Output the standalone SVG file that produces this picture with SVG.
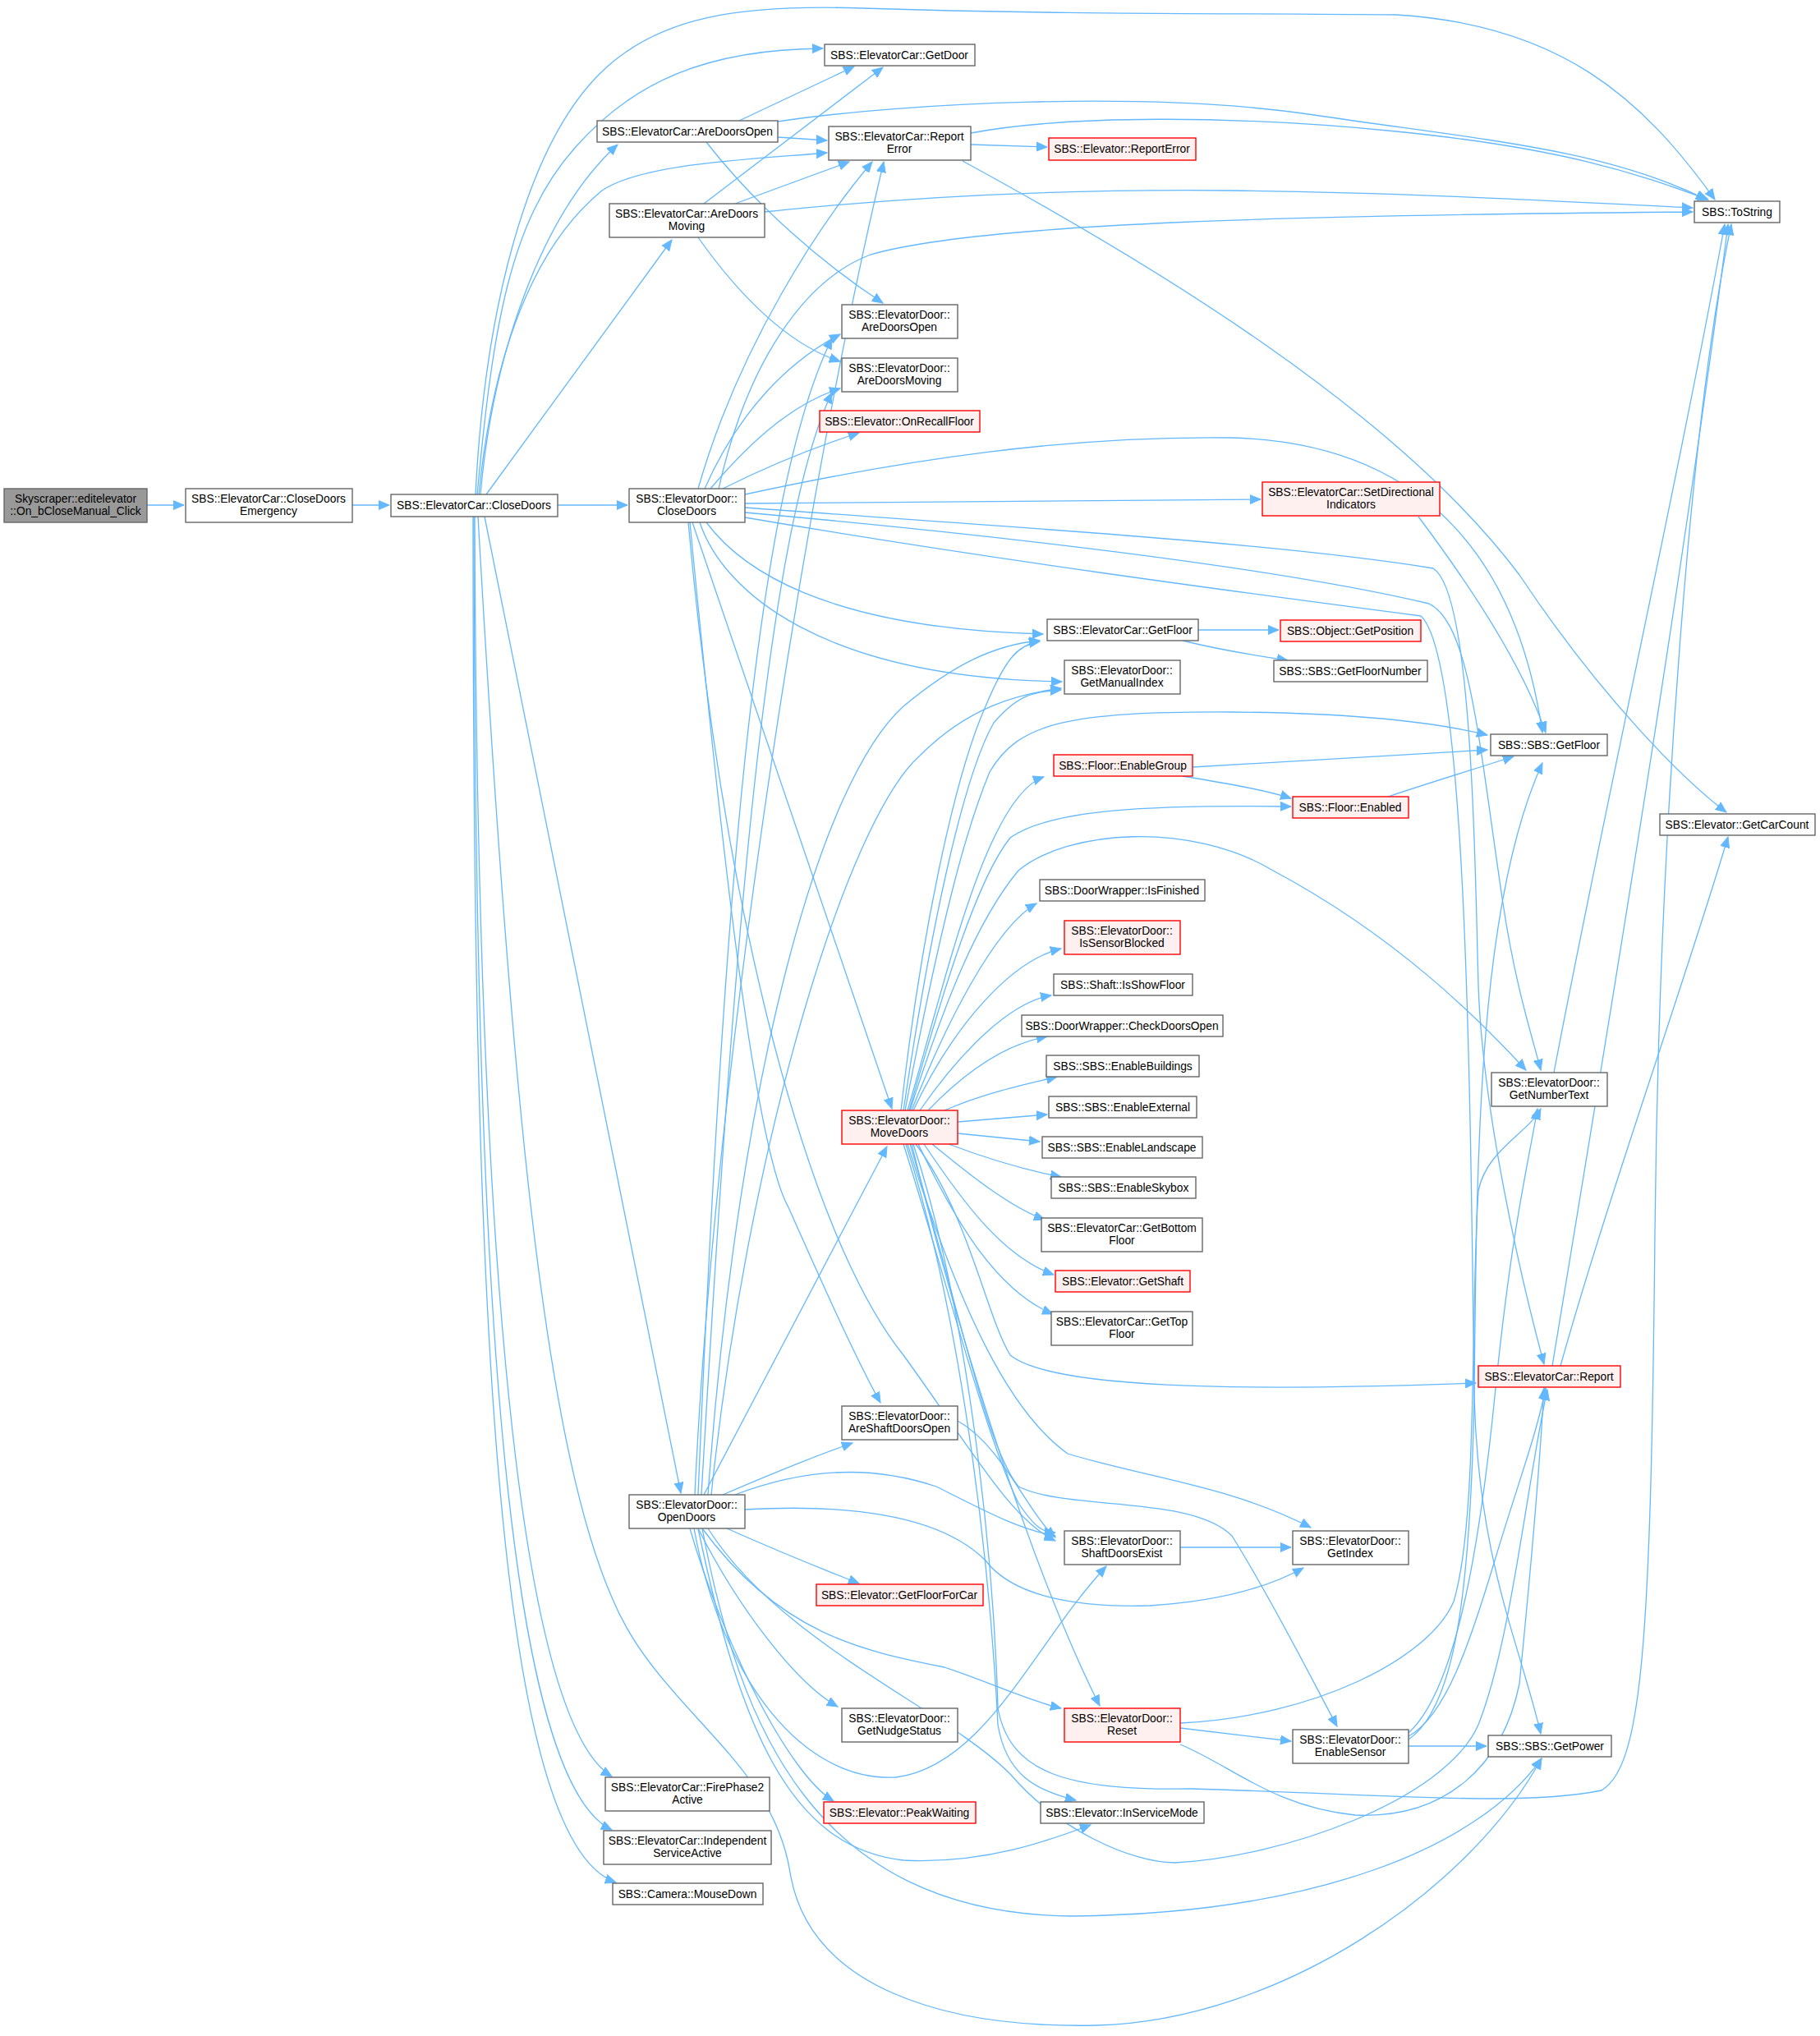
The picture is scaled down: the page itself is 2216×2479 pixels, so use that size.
<svg xmlns="http://www.w3.org/2000/svg" width="2216" height="2479" viewBox="0 0 2216 2479">
<style>
.n rect{fill:#ffffff;stroke:#666666;stroke-width:1.4}
.r rect{fill:#fff0f0;stroke:#ff0000;stroke-width:1.4}
.g rect{fill:#999999;stroke:#666666;stroke-width:1.4}
text{font-family:"Liberation Sans",Arial,Helvetica,sans-serif;font-size:13.8px;text-anchor:middle;fill:#000000}
.e path{fill:none;stroke:#63b8ff;stroke-width:1.3;marker-end:url(#a)}
</style>
<defs>
<marker id="a" markerUnits="userSpaceOnUse" markerWidth="14" markerHeight="12" refX="13" refY="6" orient="auto"><path d="M0,0.5 L13,6 L0,11.5 z" fill="#63b8ff" stroke="#63b8ff" stroke-width="1"/></marker>
</defs>
<rect width="2216" height="2479" fill="#ffffff"/>
<g id="edges" class="e">
<path d="M179,615 L224,615"/>
<path d="M429,615 L474,615"/>
<path d="M579,602 C590,380 640,180 730,90 C800,20 900,5 1050,10 C1300,18 1500,16 1700,18 C1900,30 2000,120 2088,243"/>
<path d="M581,602 C600,400 620,270 700,180 C770,100 860,60 1002,59"/>
<path d="M583,602 C600,430 650,300 733,232 C780,200 900,195 1007,186"/>
<path d="M585,602 C600,430 660,260 752,176"/>
<path d="M592,602 L818,292"/>
<path d="M679,615 L764,615"/>
<path d="M590,629 L829,1818"/>
<path d="M578,629 C580,1300 610,2080 745,2163"/>
<path d="M577,629 C578,1400 600,2160 745,2228"/>
<path d="M576,629 C576,1500 595,2240 750,2292"/>
<path d="M582,629 C620,1300 660,1750 745,1945 C800,2080 940,2140 962,2280 C985,2420 1150,2470 1335,2466 C1560,2460 1790,2300 1877,2141"/>
<path d="M947,148 C1100,125 1400,110 1600,140 C1800,170 1950,180 2078,243"/>
<path d="M900,147 L1040,81"/>
<path d="M947,167 L1007,171"/>
<path d="M860,173 C920,250 1000,320 1075,369"/>
<path d="M857,248 L1075,82"/>
<path d="M895,248 L1034,197"/>
<path d="M931,258 C1100,240 1300,230 1500,232 C1700,234 1900,245 2061,253"/>
<path d="M850,289 C900,360 960,420 1023,440"/>
<path d="M1182,176 L1275,179"/>
<path d="M1182,162 C1300,140 1500,140 1700,160 C1900,180 1990,210 2080,243"/>
<path d="M1172,196 C1400,320 1700,500 1850,700 C1950,850 2050,950 2102,989"/>
<path d="M875,595 C910,440 980,340 1060,310 C1200,270 1600,262 2061,258"/>
<path d="M850,595 C900,420 1000,270 1062,197"/>
<path d="M858,595 C900,500 960,440 1023,407"/>
<path d="M865,595 C920,530 970,490 1023,473"/>
<path d="M880,595 C930,570 990,545 1046,527"/>
<path d="M907,613 L1535,608"/>
<path d="M907,602 C1100,560 1300,530 1500,533 C1750,540 1850,700 1878,892"/>
<path d="M860,636 C900,690 1000,765 1270,772"/>
<path d="M852,636 C880,720 1000,825 1293,830"/>
<path d="M843,636 L1086,1350"/>
<path d="M840,636 C880,1050 920,1400 960,1470 C1000,1560 1040,1650 1072,1708"/>
<path d="M838,636 C880,1100 980,1500 1100,1650 C1180,1760 1230,1850 1285,1876"/>
<path d="M907,624 C1200,650 1550,690 1740,735 C1790,760 1800,900 1830,1100 C1845,1200 1865,1260 1876,1303"/>
<path d="M907,618 C1200,640 1550,660 1745,692 C1790,720 1795,1000 1800,1200 C1805,1350 1850,1550 1880,1661"/>
<path d="M907,630 C1200,680 1500,720 1730,750 C1785,800 1790,1300 1795,1700 C1800,1900 1850,2000 1876,2111"/>
<path d="M846,1820 C870,1300 980,600 1076,197"/>
<path d="M850,1820 C880,1100 920,600 1013,412"/>
<path d="M854,1820 C890,1200 930,650 1013,478"/>
<path d="M862,1820 C900,1300 1000,950 1100,860 C1160,810 1210,785 1266,780"/>
<path d="M866,1820 C910,1400 1030,1000 1120,920 C1180,860 1240,845 1292,838"/>
<path d="M857,1820 L1080,1396"/>
<path d="M880,1820 C950,1790 1000,1770 1038,1757"/>
<path d="M895,1820 C1000,1780 1080,1790 1140,1810 C1200,1840 1240,1862 1285,1870"/>
<path d="M885,1861 C950,1890 1000,1910 1046,1928"/>
<path d="M850,1861 C900,1960 970,2050 1020,2078"/>
<path d="M840,1861 C880,2000 960,2160 1015,2193"/>
<path d="M855,1861 C950,1990 1050,2010 1150,2030 C1210,2050 1250,2070 1292,2080"/>
<path d="M907,1838 C1050,1830 1150,1850 1200,1900 C1230,1940 1300,1958 1400,1955 C1480,1950 1540,1935 1587,1909"/>
<path d="M850,1861 C900,2100 960,2250 1100,2265 C1200,2270 1280,2240 1328,2222"/>
<path d="M855,1861 C900,2100 990,2330 1305,2333 C1600,2330 1800,2250 1877,2141"/>
<path d="M845,1861 C880,2050 980,2170 1091,2164 C1200,2150 1260,2000 1347,1907"/>
<path d="M862,1861 C950,2000 1150,2080 1230,2160 C1290,2230 1380,2268 1430,2268 C1560,2262 1760,2192 1800,2100 C1840,2000 1860,1800 1884,1692"/>
<path d="M1097,1352 C1120,1150 1160,950 1200,860 C1225,800 1240,785 1266,781"/>
<path d="M1100,1352 C1130,1150 1170,950 1210,880 C1240,845 1260,842 1292,840"/>
<path d="M1102,1352 C1150,1100 1180,1000 1205,940 C1240,880 1300,866 1500,867 C1650,868 1750,880 1811,895"/>
<path d="M1105,1352 C1150,1200 1200,970 1271,946"/>
<path d="M1107,1352 C1150,1200 1190,1070 1230,1020 C1280,985 1400,980 1572,982"/>
<path d="M1108,1352 C1150,1220 1190,1120 1240,1060 C1300,1010 1450,1000 1550,1060 C1700,1140 1800,1240 1858,1303"/>
<path d="M1110,1352 C1150,1250 1210,1130 1262,1100"/>
<path d="M1112,1352 C1160,1250 1230,1170 1292,1155"/>
<path d="M1120,1352 C1170,1280 1230,1220 1280,1212"/>
<path d="M1130,1352 C1180,1300 1230,1270 1275,1262"/>
<path d="M1150,1352 C1200,1330 1250,1320 1287,1311"/>
<path d="M1166,1366 L1275,1357"/>
<path d="M1166,1380 L1266,1390"/>
<path d="M1155,1393 C1200,1410 1250,1425 1292,1433"/>
<path d="M1135,1393 C1180,1430 1230,1470 1272,1485"/>
<path d="M1125,1393 C1170,1460 1220,1530 1283,1552"/>
<path d="M1118,1393 C1160,1480 1210,1570 1282,1600"/>
<path d="M1115,1393 C1180,1480 1200,1600 1230,1650 C1280,1690 1500,1695 1797,1684"/>
<path d="M1100,1393 C1150,1550 1200,1750 1240,1830 C1260,1860 1270,1866 1285,1866"/>
<path d="M1105,1393 C1170,1600 1230,1720 1300,1770 C1400,1800 1500,1810 1596,1860"/>
<path d="M1108,1393 C1170,1600 1200,1760 1240,1810 C1300,1840 1450,1820 1500,1870 C1550,1950 1600,2050 1628,2102"/>
<path d="M1110,1393 C1160,1600 1250,1900 1339,2077"/>
<path d="M1103,1393 C1170,1600 1205,1900 1215,2100 C1225,2160 1260,2180 1310,2192"/>
<path d="M1112,1393 C1180,1600 1210,1900 1215,2080 C1230,2160 1300,2180 1450,2178 C1700,2185 1850,2200 1950,2180 C2000,2150 2010,2000 2015,1500 C2020,1000 2060,500 2108,273"/>
<path d="M1166,1730 C1220,1760 1250,1840 1285,1872"/>
<path d="M1437,1884 L1572,1884"/>
<path d="M1437,2104 L1572,2120"/>
<path d="M1437,2124 C1500,2150 1550,2200 1650,2210 C1760,2215 1830,2150 1850,2050 C1865,1900 1875,1780 1880,1690"/>
<path d="M1437,2098 C1600,2090 1740,2020 1770,1950 C1800,1850 1790,1600 1800,1450 C1810,1400 1860,1380 1876,1350"/>
<path d="M1715,2126 L1810,2126"/>
<path d="M1715,2114 C1760,2090 1790,2000 1820,1900 C1850,1800 1870,1750 1882,1690"/>
<path d="M1715,2110 C1770,2060 1800,1900 1820,1700 C1840,1500 1860,1420 1872,1350"/>
<path d="M1715,2118 C1770,2080 1790,1950 1795,1700 C1798,1400 1800,1100 1878,929"/>
<path d="M1890,1663 C1950,1300 2050,700 2104,273"/>
<path d="M1900,1663 C1960,1450 2050,1200 2104,1019"/>
<path d="M1892,1306 C1950,1000 2040,600 2100,273"/>
<path d="M1727,629 C1780,700 1850,800 1882,892"/>
<path d="M1459,767 L1557,767"/>
<path d="M1440,780 C1480,790 1520,797 1568,804"/>
<path d="M1452,934 L1811,913"/>
<path d="M1440,945 C1500,955 1540,962 1572,972"/>
<path d="M1690,970 C1750,950 1800,935 1843,921"/>
</g>
<g id="n_sky" class="g"><rect x="5" y="595" width="174" height="41"/><text x="92" y="612">Skyscraper::editelevator</text><text x="92" y="627">::On_bCloseManual_Click</text></g>
<g id="n_cde" class="n"><rect x="226" y="595" width="203" height="41"/><text x="327" y="612">SBS::ElevatorCar::CloseDoors</text><text x="327" y="627">Emergency</text></g>
<g id="n_ccd" class="n"><rect x="476" y="602" width="203" height="27"/><text x="577" y="620">SBS::ElevatorCar::CloseDoors</text></g>
<g id="n_cado" class="n"><rect x="727" y="147" width="220" height="26"/><text x="837" y="165">SBS::ElevatorCar::AreDoorsOpen</text></g>
<g id="n_cadm" class="n"><rect x="742" y="248" width="189" height="41"/><text x="836" y="265">SBS::ElevatorCar::AreDoors</text><text x="836" y="280">Moving</text></g>
<g id="n_dcd" class="n"><rect x="766" y="595" width="141" height="41"/><text x="836" y="612">SBS::ElevatorDoor::</text><text x="836" y="627">CloseDoors</text></g>
<g id="n_dod" class="n"><rect x="766" y="1820" width="141" height="41"/><text x="836" y="1837">SBS::ElevatorDoor::</text><text x="836" y="1852">OpenDoors</text></g>
<g id="n_fp2" class="n"><rect x="737" y="2164" width="200" height="41"/><text x="837" y="2181">SBS::ElevatorCar::FirePhase2</text><text x="837" y="2196">Active</text></g>
<g id="n_isa" class="n"><rect x="735" y="2229" width="204" height="41"/><text x="837" y="2246">SBS::ElevatorCar::Independent</text><text x="837" y="2261">ServiceActive</text></g>
<g id="n_md" class="n"><rect x="746" y="2293" width="183" height="26"/><text x="837" y="2311">SBS::Camera::MouseDown</text></g>
<g id="n_gd" class="n"><rect x="1004" y="54" width="183" height="26"/><text x="1095" y="72">SBS::ElevatorCar::GetDoor</text></g>
<g id="n_cre" class="n"><rect x="1009" y="154" width="173" height="41"/><text x="1095" y="171">SBS::ElevatorCar::Report</text><text x="1095" y="186">Error</text></g>
<g id="n_dado" class="n"><rect x="1025" y="371" width="141" height="41"/><text x="1095" y="388">SBS::ElevatorDoor::</text><text x="1095" y="403">AreDoorsOpen</text></g>
<g id="n_dadm" class="n"><rect x="1025" y="436" width="141" height="41"/><text x="1095" y="453">SBS::ElevatorDoor::</text><text x="1095" y="468">AreDoorsMoving</text></g>
<g id="n_orf" class="r"><rect x="998" y="500" width="195" height="26"/><text x="1095" y="518">SBS::Elevator::OnRecallFloor</text></g>
<g id="n_mv" class="r"><rect x="1025" y="1352" width="141" height="41"/><text x="1095" y="1369">SBS::ElevatorDoor::</text><text x="1095" y="1384">MoveDoors</text></g>
<g id="n_asdo" class="n"><rect x="1025" y="1712" width="141" height="41"/><text x="1095" y="1729">SBS::ElevatorDoor::</text><text x="1095" y="1744">AreShaftDoorsOpen</text></g>
<g id="n_gffc" class="r"><rect x="994" y="1929" width="203" height="26"/><text x="1095" y="1947">SBS::Elevator::GetFloorForCar</text></g>
<g id="n_gns" class="n"><rect x="1025" y="2080" width="141" height="41"/><text x="1095" y="2097">SBS::ElevatorDoor::</text><text x="1095" y="2112">GetNudgeStatus</text></g>
<g id="n_pw" class="r"><rect x="1003" y="2194" width="185" height="26"/><text x="1095" y="2212">SBS::Elevator::PeakWaiting</text></g>
<g id="n_ere" class="r"><rect x="1277" y="168" width="179" height="27"/><text x="1366" y="186">SBS::Elevator::ReportError</text></g>
<g id="n_cgf" class="n"><rect x="1275" y="754" width="184" height="26"/><text x="1367" y="772">SBS::ElevatorCar::GetFloor</text></g>
<g id="n_gmi" class="n"><rect x="1296" y="804" width="141" height="41"/><text x="1366" y="821">SBS::ElevatorDoor::</text><text x="1366" y="836">GetManualIndex</text></g>
<g id="n_feg" class="r"><rect x="1283" y="919" width="169" height="26"/><text x="1367" y="937">SBS::Floor::EnableGroup</text></g>
<g id="n_dwf" class="n"><rect x="1266" y="1071" width="201" height="26"/><text x="1366" y="1089">SBS::DoorWrapper::IsFinished</text></g>
<g id="n_isb" class="r"><rect x="1296" y="1121" width="141" height="41"/><text x="1366" y="1138">SBS::ElevatorDoor::</text><text x="1366" y="1153">IsSensorBlocked</text></g>
<g id="n_sisf" class="n"><rect x="1283" y="1186" width="169" height="26"/><text x="1367" y="1204">SBS::Shaft::IsShowFloor</text></g>
<g id="n_cdo" class="n"><rect x="1244" y="1236" width="245" height="26"/><text x="1366" y="1254">SBS::DoorWrapper::CheckDoorsOpen</text></g>
<g id="n_eb" class="n"><rect x="1274" y="1285" width="186" height="26"/><text x="1367" y="1303">SBS::SBS::EnableBuildings</text></g>
<g id="n_ee" class="n"><rect x="1277" y="1335" width="180" height="26"/><text x="1367" y="1353">SBS::SBS::EnableExternal</text></g>
<g id="n_el" class="n"><rect x="1269" y="1384" width="195" height="26"/><text x="1366" y="1402">SBS::SBS::EnableLandscape</text></g>
<g id="n_es" class="n"><rect x="1280" y="1433" width="176" height="26"/><text x="1368" y="1451">SBS::SBS::EnableSkybox</text></g>
<g id="n_gbf" class="n"><rect x="1268" y="1483" width="196" height="41"/><text x="1366" y="1500">SBS::ElevatorCar::GetBottom</text><text x="1366" y="1515">Floor</text></g>
<g id="n_egs" class="r"><rect x="1285" y="1547" width="164" height="26"/><text x="1367" y="1565">SBS::Elevator::GetShaft</text></g>
<g id="n_gtf" class="n"><rect x="1280" y="1597" width="172" height="41"/><text x="1366" y="1614">SBS::ElevatorCar::GetTop</text><text x="1366" y="1629">Floor</text></g>
<g id="n_sde" class="n"><rect x="1296" y="1864" width="141" height="41"/><text x="1366" y="1881">SBS::ElevatorDoor::</text><text x="1366" y="1896">ShaftDoorsExist</text></g>
<g id="n_rst" class="r"><rect x="1296" y="2080" width="141" height="41"/><text x="1366" y="2097">SBS::ElevatorDoor::</text><text x="1366" y="2112">Reset</text></g>
<g id="n_ism" class="n"><rect x="1267" y="2194" width="199" height="26"/><text x="1366" y="2212">SBS::Elevator::InServiceMode</text></g>
<g id="n_sdi" class="r"><rect x="1537" y="587" width="216" height="41"/><text x="1645" y="604">SBS::ElevatorCar::SetDirectional</text><text x="1645" y="619">Indicators</text></g>
<g id="n_gpos" class="r"><rect x="1559" y="755" width="171" height="26"/><text x="1644" y="773">SBS::Object::GetPosition</text></g>
<g id="n_gfn" class="n"><rect x="1551" y="804" width="187" height="26"/><text x="1644" y="822">SBS::SBS::GetFloorNumber</text></g>
<g id="n_fe" class="r"><rect x="1574" y="970" width="141" height="26"/><text x="1644" y="988">SBS::Floor::Enabled</text></g>
<g id="n_gi" class="n"><rect x="1574" y="1864" width="141" height="41"/><text x="1644" y="1881">SBS::ElevatorDoor::</text><text x="1644" y="1896">GetIndex</text></g>
<g id="n_esn" class="n"><rect x="1574" y="2106" width="141" height="41"/><text x="1644" y="2123">SBS::ElevatorDoor::</text><text x="1644" y="2138">EnableSensor</text></g>
<g id="n_sgf" class="n"><rect x="1815" y="894" width="142" height="26"/><text x="1886" y="912">SBS::SBS::GetFloor</text></g>
<g id="n_gnt" class="n"><rect x="1816" y="1306" width="141" height="41"/><text x="1886" y="1323">SBS::ElevatorDoor::</text><text x="1886" y="1338">GetNumberText</text></g>
<g id="n_rep" class="r"><rect x="1800" y="1663" width="173" height="26"/><text x="1886" y="1681">SBS::ElevatorCar::Report</text></g>
<g id="n_gpw" class="n"><rect x="1812" y="2113" width="150" height="26"/><text x="1887" y="2131">SBS::SBS::GetPower</text></g>
<g id="n_ts" class="n"><rect x="2063" y="245" width="104" height="26"/><text x="2115" y="263">SBS::ToString</text></g>
<g id="n_gcc" class="n"><rect x="2021" y="991" width="189" height="26"/><text x="2115" y="1009">SBS::Elevator::GetCarCount</text></g>
</svg>
